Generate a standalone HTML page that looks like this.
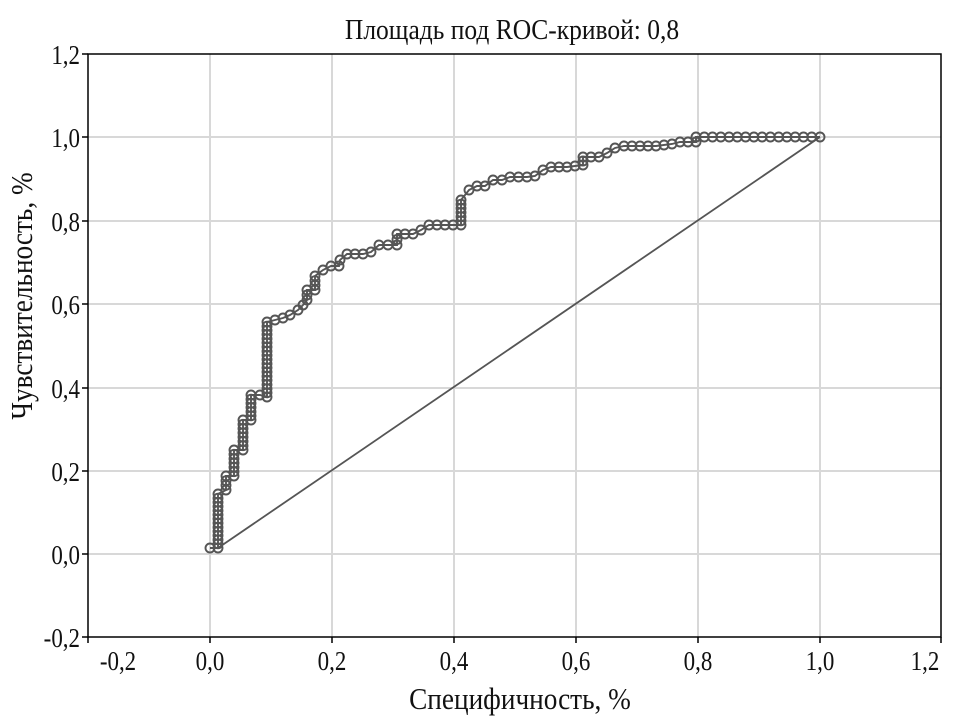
<!DOCTYPE html>
<html><head><meta charset="utf-8"><style>
html,body{margin:0;padding:0;background:#fff}
svg text{font-family:"Liberation Serif",serif;fill:#111}
</style></head><body>
<svg id="s" width="959" height="720" xmlns="http://www.w3.org/2000/svg">
<rect width="959" height="720" fill="#fff"/>
<g stroke="#d8d8d8" stroke-width="2">
<line x1="210" y1="54" x2="210" y2="637"/><line x1="332" y1="54" x2="332" y2="637"/>
<line x1="454" y1="54" x2="454" y2="637"/><line x1="576" y1="54" x2="576" y2="637"/>
<line x1="698" y1="54" x2="698" y2="637"/><line x1="820" y1="54" x2="820" y2="637"/>
<line x1="88" y1="137" x2="941" y2="137"/><line x1="88" y1="221" x2="941" y2="221"/>
<line x1="88" y1="304" x2="941" y2="304"/><line x1="88" y1="388" x2="941" y2="388"/>
<line x1="88" y1="471" x2="941" y2="471"/><line x1="88" y1="554" x2="941" y2="554"/>
</g>
<rect x="88" y="54" width="853" height="583" fill="none" stroke="#000" stroke-width="1.5"/>
<g stroke="#000" stroke-width="1.5">
<line x1="88" y1="637" x2="88" y2="643"/><line x1="210" y1="637" x2="210" y2="643"/><line x1="332" y1="637" x2="332" y2="643"/><line x1="454" y1="637" x2="454" y2="643"/><line x1="576" y1="637" x2="576" y2="643"/><line x1="698" y1="637" x2="698" y2="643"/><line x1="820" y1="637" x2="820" y2="643"/><line x1="941" y1="637" x2="941" y2="643"/>
<line x1="82" y1="54" x2="88" y2="54"/><line x1="82" y1="137" x2="88" y2="137"/><line x1="82" y1="221" x2="88" y2="221"/><line x1="82" y1="304" x2="88" y2="304"/><line x1="82" y1="388" x2="88" y2="388"/><line x1="82" y1="471" x2="88" y2="471"/><line x1="82" y1="554" x2="88" y2="554"/><line x1="82" y1="637" x2="88" y2="637"/>
</g>
<text transform="translate(512,39) scale(0.88,1)" font-size="29" text-anchor="middle">Площадь под ROC-кривой: 0,8</text>
<g font-size="27" text-anchor="end">
<text transform="translate(80,64) scale(0.85,1)">1,2</text><text transform="translate(80,147) scale(0.85,1)">1,0</text><text transform="translate(80,231) scale(0.85,1)">0,8</text><text transform="translate(80,314) scale(0.85,1)">0,6</text><text transform="translate(80,398) scale(0.85,1)">0,4</text><text transform="translate(80,481) scale(0.85,1)">0,2</text><text transform="translate(80,564) scale(0.85,1)">0,0</text><text transform="translate(80,647) scale(0.85,1)">-0,2</text>
</g>
<g font-size="27" text-anchor="middle">
<text transform="translate(118,670) scale(0.85,1)">-0,2</text><text transform="translate(210,670) scale(0.85,1)">0,0</text><text transform="translate(332,670) scale(0.85,1)">0,2</text><text transform="translate(454,670) scale(0.85,1)">0,4</text><text transform="translate(576,670) scale(0.85,1)">0,6</text><text transform="translate(698,670) scale(0.85,1)">0,8</text><text transform="translate(820,670) scale(0.85,1)">1,0</text><text transform="translate(925,670) scale(0.85,1)">1,2</text>
</g>
<text transform="translate(520,709) scale(0.88,1)" font-size="31" text-anchor="middle">Специфичность, %</text>
<text transform="translate(32,296) rotate(-90) scale(0.88,1)" font-size="31" text-anchor="middle">Чувствительность, %</text>
<line x1="218" y1="548" x2="820" y2="137" stroke="#555" stroke-width="1.8"/>
<g id="c" fill="none" stroke="#555" stroke-width="1.9"></g>
</svg>
<script>
var P=[[210,548],[218,548],[218,494],[226,490],[226,476],[234,476],[234,450],[243,450],[243,420],[251,420],[251,395],[260,395],[267,397],[267,322],[275,320],[283,318],[290,315],[298,310],[303,305],[307,300],[307,290],[315,290],[315,276],[323,270],[331,266],[339,266],[340,260],[347,254],[355,254],[363,254],[371,252],[379,245],[397,245],[397,234],[405,234],[413,234],[421,230],[429,225],[437,225],[445,225],[461,225],[461,200],[469,190],[477,186],[485,186],[493,180],[502,180],[510,177],[527,177],[535,176],[543,170],[551,167],[559,167],[567,167],[583,165],[583,157],[591,157],[599,157],[607,153],[615,148],[624,146],[632,146],[640,146],[648,146],[656,146],[672,144],[680,142],[696,142],[696,137],[820,137]];
var g=document.getElementById('c'),d='M'+P.map(function(p){return p.join(',')}).join('L');
var h='<path d="'+d+'"/>';
for(var i=0;i<P.length;i++){var a=P[i];h+='<circle cx="'+a[0]+'" cy="'+a[1]+'" r="4.5"/>';
if(i<P.length-1){var b=P[i+1],dx=b[0]-a[0],dy=b[1]-a[1],L=Math.hypot(dx,dy),st=Math.abs(dx)<1?4:8,n=Math.floor(L/st);
for(var k=1;k<n;k++){h+='<circle cx="'+(a[0]+dx*k/n).toFixed(1)+'" cy="'+(a[1]+dy*k/n).toFixed(1)+'" r="4.5"/>';}}}
g.innerHTML=h;
</script>
</body></html>
